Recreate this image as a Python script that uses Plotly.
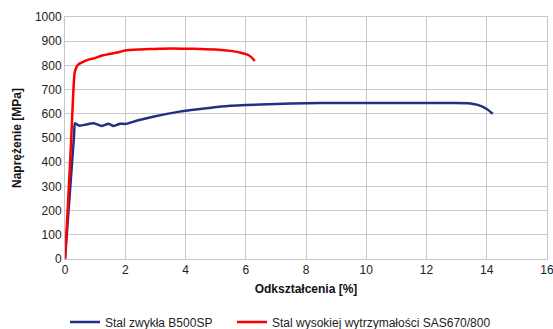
import plotly.graph_objects as go

# Stal zwykła B500SP
b500_strain = [0.0, 0.1, 0.2, 0.3, 0.33, 0.4, 0.5, 0.7, 0.94, 1.1, 1.22, 1.33, 1.44, 1.52, 1.6, 1.72, 1.83, 2.0,
               2.4, 3.0, 3.8, 4.5, 5.2, 6.0, 7.0, 8.0, 9.0, 10.0, 11.0, 12.0, 12.8, 13.4, 13.7, 14.0, 14.2]
b500_stress = [0, 170, 340, 510, 561, 556, 551, 556, 561, 555, 550, 554, 559, 555, 550, 554, 559, 558,
               572, 590, 609, 620, 630, 636, 641, 644, 645, 645, 645, 645, 645, 644, 637, 620, 600]

# Stal wysokiej wytrzymałości SAS670/800
sas_strain = [0.0, 0.1, 0.2, 0.28, 0.32, 0.38, 0.45, 0.6, 0.8, 1.0, 1.2, 1.5, 1.8, 2.0, 2.5, 3.0, 3.5, 4.0,
              4.5, 5.0, 5.5, 5.9, 6.1, 6.2, 6.3]
sas_stress = [0, 230, 480, 700, 770, 793, 805, 815, 825, 830, 840, 848, 855, 862, 866, 868, 870, 869,
              868, 866, 860, 850, 842, 832, 818]

x_ticks = [0, 2, 4, 6, 8, 10, 12, 14, 16]
y_ticks = [0, 100, 200, 300, 400, 500, 600, 700, 800, 900, 1000]

FONT = "Liberation Sans, Arial"

fig = go.Figure()
fig.add_trace(go.Scatter(x=b500_strain, y=b500_stress, mode="lines", name="Stal zwykła B500SP",
                         legend="legend",
                         line=dict(color="#262f86", width=2.5, shape="spline", smoothing=0.6)))
fig.add_trace(go.Scatter(x=sas_strain, y=sas_stress, mode="lines", name="Stal wysokiej wytrzymałości SAS670/800",
                         legend="legend2",
                         line=dict(color="#ff0000", width=2.5, shape="spline", smoothing=0.6)))

axis_common = dict(showgrid=True, gridcolor="#c8c8c8", gridwidth=1, showline=True, linecolor="#c8c8c8",
                   linewidth=1, mirror=True, zeroline=False, ticks="", automargin=False,
                   tickfont=dict(family=FONT, size=12, color="#222222"))

fig.update_xaxes(range=[0, 16], tickvals=x_ticks, ticklabeloverflow="allow", **axis_common,
                 title=dict(text="<b>Odkształcenia [%]</b>", font=dict(family=FONT, size=12, color="#111111"), standoff=8))
fig.update_yaxes(range=[0, 1000], tickvals=y_ticks, **axis_common,
                 title=dict(text="<b>Naprężenie [MPa]</b>", font=dict(family=FONT, size=12, color="#111111"), standoff=10))

legend_common = dict(orientation="h", xref="container", yref="container", xanchor="left",
                     y=(329 - 322) / 329, yanchor="middle",
                     font=dict(family=FONT, size=12, color="#222222"), itemwidth=30)

fig.update_layout(
    width=553, height=329,
    margin=dict(l=65, r=6, t=17, b=70),
    paper_bgcolor="white", plot_bgcolor="white",
    showlegend=True,
    legend=dict(x=65 / 553, **legend_common),
    legend2=dict(x=232 / 553, **legend_common),
)

fig.write_html("out.html")
